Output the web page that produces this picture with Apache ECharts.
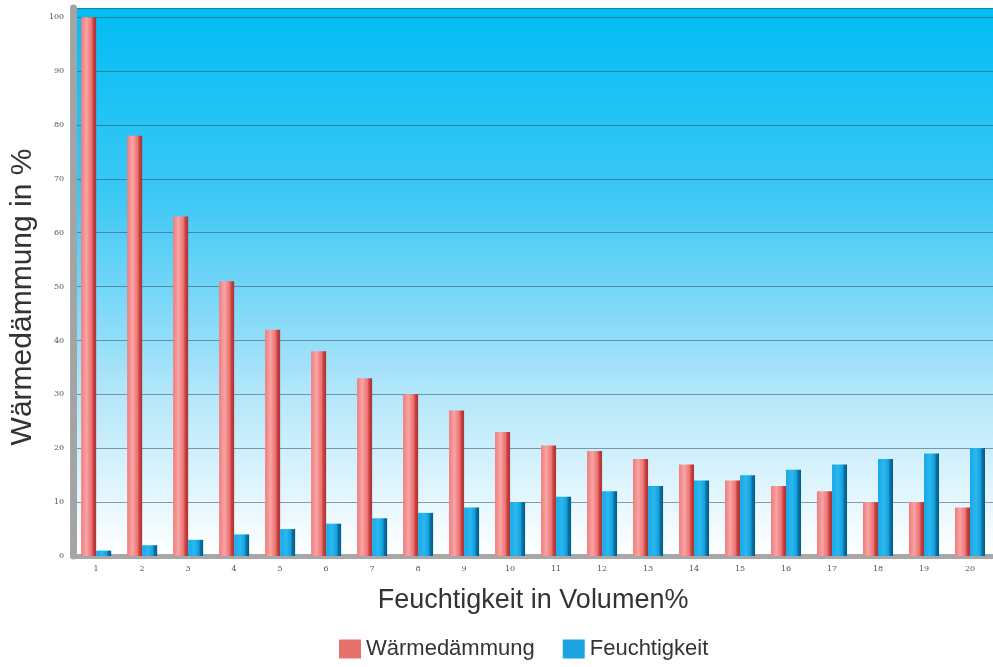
<!DOCTYPE html>
<html><head><meta charset="utf-8">
<script src="https://cdn.jsdelivr.net/npm/echarts@6/dist/echarts.min.js"></script>
<style>html,body{margin:0;padding:0;background:#fff}#c{width:993px;height:667px}</style>
</head><body><div id="c"></div>
<script>
const categories = ['1','2','3','4','5','6','7','8','9','10','11','12','13','14','15','16','17','18','19','20'];
const waermedaemmung = [100,78,63,51,42,38,33,30,27,23,20.5,19.5,18,17,14,13,12,10,10,9];
const feuchtigkeit = [1,2,3,4,5,6,7,8,9,10,11,12,13,14,15,16,17,18,19,20];
const yTicks = [0,10,20,30,40,50,60,70,80,90,100];

const FONT = '"Liberation Sans", Arial, sans-serif';
const chart = echarts.init(document.getElementById('c'));
const redGrad = new echarts.graphic.LinearGradient(0,0,1,0,[
  {offset:0,color:'#f27a7a'},{offset:0.35,color:'#f7a5a5'},{offset:0.7,color:'#ee7070'},{offset:0.8,color:'#c94545'},{offset:1,color:'#a83232'}]);
const blueGrad = new echarts.graphic.LinearGradient(0,0,1,0,[
  {offset:0,color:'#18a8e6'},{offset:0.4,color:'#2bb8f0'},{offset:0.72,color:'#12a0dc'},{offset:0.8,color:'#0b73a6'},{offset:1,color:'#075a85'}]);

chart.setOption({
  animation:false,
  backgroundColor:'#ffffff',
  grid:{left:72,right:-1,top:8,bottom:111,show:true,borderWidth:0,
    backgroundColor:new echarts.graphic.LinearGradient(0,0,0,1,[
      {offset:0,color:'#00bdf4'},{offset:0.35,color:'#3ec8f5'},{offset:0.7,color:'#b2e6fa'},{offset:1,color:'#ffffff'}])},
  legend:{top:633,left:334,itemWidth:22,itemHeight:19,itemGap:28,icon:'rect',
    textStyle:{fontFamily:FONT,fontSize:22,color:'#333'},
    data:[{name:'Wärmedämmung',itemStyle:{color:'#e8706c'}},{name:'Feuchtigkeit',itemStyle:{color:'#1aa3e0'}}]},
  xAxis:{type:'category',data:categories,
    name:'Feuchtigkeit in Volumen%',nameLocation:'middle',nameGap:31,
    nameTextStyle:{fontFamily:FONT,fontSize:27,color:'#333'},
    axisLine:{lineStyle:{color:'#a8a8a8',width:5}},axisTick:{show:false},
    axisLabel:{fontSize:8,color:'#555',margin:9,fontFamily:'"DejaVu Serif", serif'}},
  yAxis:{type:'value',min:0,max:101.7,interval:10,
    name:'Wärmedämmung in %',nameLocation:'middle',nameGap:35,
    nameTextStyle:{fontFamily:FONT,fontSize:30,color:'#333',padding:[0,30,0,0]},
    axisLine:{show:true,lineStyle:{color:'#a4a4a4',width:7}},
    axisTick:{show:false},
    axisLabel:{fontSize:8,color:'#555',margin:9,showMaxLabel:false,fontFamily:'"DejaVu Serif", serif',
      formatter:v=>yTicks.includes(v)?String(v):''},
    splitLine:{lineStyle:{color:'rgba(50,80,105,0.55)',width:1.2}}},
  series:[
    {name:'Wärmedämmung',type:'bar',data:waermedaemmung,barWidth:15,barGap:'0%',
      itemStyle:{color:redGrad}},
    {name:'Feuchtigkeit',type:'bar',data:feuchtigkeit,barWidth:15,
      itemStyle:{color:blueGrad}}
  ]
});
</script></body></html>
